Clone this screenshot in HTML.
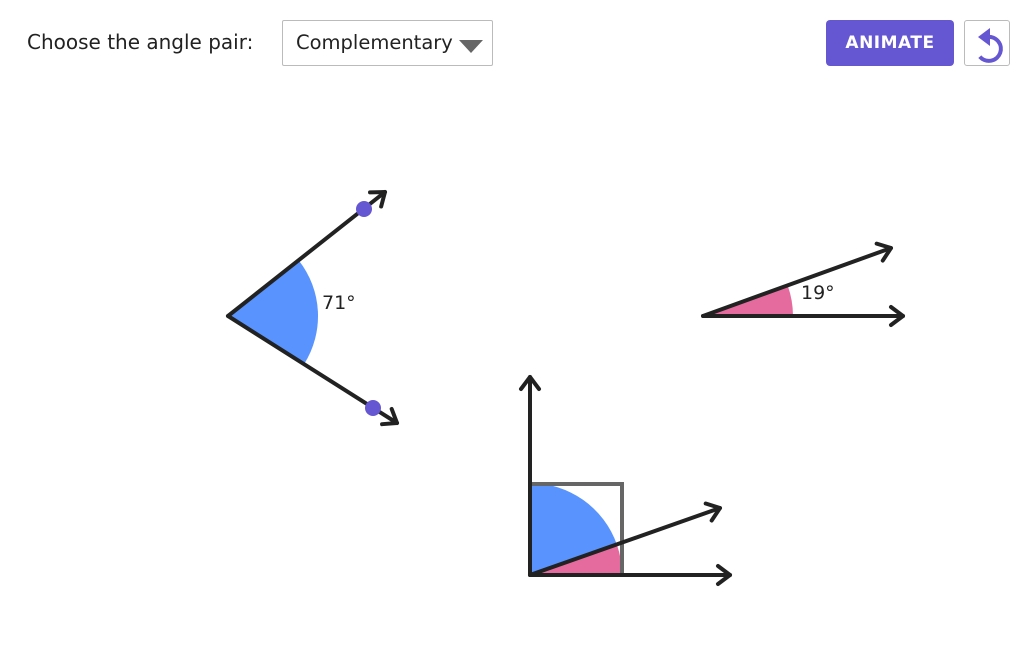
<!DOCTYPE html>
<html><head><meta charset="utf-8"><style>
body{margin:0;width:1032px;height:645px;background:#fff;font-family:"DejaVu Sans","Liberation Sans",sans-serif;overflow:hidden;position:relative}
.lbl{position:absolute;left:27px;top:30px;font-size:20px;color:#222}
.sel{position:absolute;left:282px;top:20px;width:211px;height:46px;border:1px solid #bbb;box-sizing:border-box;border-radius:2px}
.sel span{position:absolute;left:13px;top:10px;font-size:19.5px;color:#222}
.btn{position:absolute;left:826px;top:20px;width:128px;height:46px;background:#6557d2;border-radius:4px;color:#fff;font-weight:bold;font-size:17px;text-align:center;line-height:46px;letter-spacing:.5px}
.rst{position:absolute;left:964px;top:20px;width:46px;height:46px;border:1px solid #bbb;box-sizing:border-box;border-radius:3px}
</style></head><body>
<div class="lbl">Choose the angle pair:</div>
<div class="sel"><span>Complementary</span>
<svg style="position:absolute;left:176px;top:19px" width="24" height="14"><polygon points="0,0 24,0 12,13" fill="#666"/></svg></div>
<div class="btn">ANIMATE</div>
<div class="rst"><svg width="46" height="46"><path d="M22,16 A12,12 0 1 1 14.8,35.7" fill="none" stroke="#6557d2" stroke-width="4"/><polygon points="13,16 25,7 25,25" fill="#6557d2"/></svg></div>
<svg style="position:absolute;left:0;top:0" width="1032" height="645">
<defs><marker id="a" markerUnits="userSpaceOnUse" markerWidth="30" markerHeight="30" refX="15" refY="15" orient="auto" overflow="visible"><path d="M3,6 L15,15 L3,24" fill="none" stroke="#222" stroke-width="4" stroke-linecap="round" stroke-linejoin="round"/></marker></defs>
<path d="M228,316 L298.6,260.2 A90,90 0 0 1 304.1,364.1 Z" fill="#5893fe"/>
<g stroke="#222" stroke-width="4" stroke-linecap="round" fill="none">
<line x1="228" y1="316" x2="385" y2="192" marker-end="url(#a)"/>
<line x1="228" y1="316" x2="397" y2="423" marker-end="url(#a)"/>
</g>
<circle cx="364" cy="209" r="8" fill="#6557d2"/>
<circle cx="373" cy="408" r="8" fill="#6557d2"/>
<text x="322" y="309" font-size="19" fill="#222" font-family="DejaVu Sans,sans-serif">71°</text>

<path d="M703,316 L787.6,285.4 A90,90 0 0 1 793,316 Z" fill="#e56b9e"/>
<g stroke="#222" stroke-width="4" stroke-linecap="round" fill="none">
<line x1="703" y1="316" x2="903" y2="316" marker-end="url(#a)"/>
<line x1="703" y1="316" x2="891" y2="248" marker-end="url(#a)"/>
</g>
<text x="801" y="299" font-size="19" fill="#222" font-family="DejaVu Sans,sans-serif">19°</text>

<path d="M530,575 L616.8,544.4 A92,92 0 0 0 530,483 Z" fill="#5893fe"/>
<path d="M530,575 L622,575 A92,92 0 0 0 616.8,544.4 Z" fill="#e56b9e"/>
<path d="M530,484 L622,484 L622,575" fill="none" stroke="#666" stroke-width="4"/>
<g stroke="#222" stroke-width="4" stroke-linecap="round" fill="none">
<line x1="530" y1="575" x2="530" y2="377" marker-end="url(#a)"/>
<line x1="530" y1="575" x2="730" y2="575" marker-end="url(#a)"/>
<line x1="530" y1="575" x2="720" y2="508" marker-end="url(#a)"/>
</g>
</svg>
</body></html>
